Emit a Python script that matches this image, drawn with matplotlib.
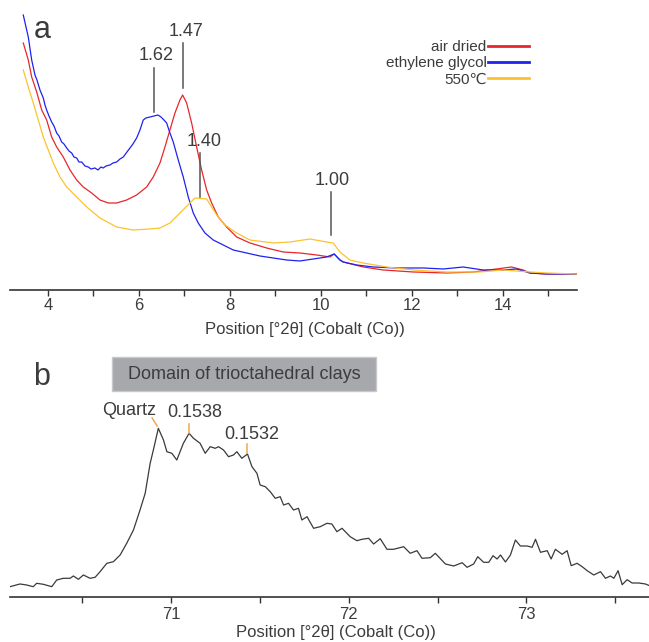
import matplotlib.pyplot as plt
from matplotlib.ticker import MultipleLocator
from matplotlib.patches import Rectangle

plt.rcParams['font.family'] = ['Liberation Sans', 'DejaVu Sans']

# ---- panel a: XRD traces (°2θ, counts arbitrary) ----
blue_x = [3.457, 3.567, 3.642, 3.714, 3.758, 3.824, 3.897, 3.934, 3.971, 4.022,
          4.081, 4.132, 4.191, 4.242, 4.301, 4.352, 4.411, 4.462, 4.521, 4.571,
          4.631, 4.681, 4.741, 4.813, 4.886, 4.945, 5.033, 5.099, 5.165, 5.215,
          5.275, 5.363, 5.429, 5.510, 5.582, 5.655, 5.736, 5.802, 5.868, 5.949,
          6.022, 6.095, 6.154, 6.242, 6.330, 6.418, 6.484, 6.549, 6.609, 6.681,
          6.754, 6.864, 6.974, 7.084, 7.194, 7.303, 7.451, 7.633, 7.853, 8.073,
          8.367, 8.659, 8.952, 9.246, 9.538, 9.831, 10.125, 10.292, 10.418, 10.490,
          10.785, 11.149, 11.664, 12.248, 12.688, 13.127, 13.567, 14.007, 14.301, 14.593,
          14.960, 15.626]
blue_y = [275, 253, 230, 215, 210, 200, 192, 185, 180, 174,
          168, 164, 157, 154, 148, 146, 142, 139, 137, 133,
          132, 128, 128, 124, 123, 121, 122, 120, 123, 122,
          124, 125, 127, 128, 131, 133, 138, 142, 146, 152,
          160, 170, 172, 173, 174, 175, 173, 170, 167, 157,
          148, 130, 113, 93, 77, 67, 57, 50, 45, 40,
          37, 34, 32, 30, 29, 31, 33, 36, 30, 28,
          25, 23, 22, 22, 21, 23, 20, 20, 21, 17,
          16, 16]

red_x = [3.457, 3.567, 3.642, 3.752, 3.862, 3.971, 4.081, 4.191, 4.336, 4.484,
         4.631, 4.776, 4.960, 5.143, 5.325, 5.510, 5.730, 5.949, 6.169, 6.314,
         6.462, 6.571, 6.681, 6.791, 6.901, 6.960, 7.048, 7.158, 7.268, 7.378,
         7.488, 7.598, 7.743, 7.927, 8.147, 8.440, 8.807, 9.171, 9.538, 9.905,
         10.198, 10.292, 10.418, 10.490, 10.930, 11.369, 12.029, 12.763, 13.347, 13.862,
         14.191, 14.446, 14.593, 14.960, 15.626]
red_y = [247, 230, 213, 198, 180, 170, 153, 143, 133, 120,
         110, 103, 97, 90, 87, 87, 90, 95, 103, 113,
         127, 143, 160, 177, 190, 195, 187, 167, 143, 120,
         100, 87, 73, 63, 53, 47, 42, 38, 37, 35,
         33, 36, 30, 28, 23, 20, 18, 17, 18, 21,
         23, 20, 17, 16, 16]

yellow_x = [3.457, 3.567, 3.677, 3.787, 3.897, 4.007, 4.116, 4.264, 4.411, 4.631,
            4.851, 5.143, 5.510, 5.875, 6.242, 6.462, 6.681, 6.901, 7.121, 7.231,
            7.488, 7.598, 7.708, 7.890, 8.147, 8.440, 8.952, 9.319, 9.758, 10.125,
            10.270, 10.418, 10.637, 10.930, 11.444, 12.029, 12.763, 13.495, 14.007, 14.593,
            14.960, 15.626]
yellow_y = [220, 203, 187, 170, 153, 140, 127, 113, 103, 93,
            83, 72, 63, 60, 61, 62, 67, 77, 87, 92,
            91, 83, 75, 65, 57, 50, 47, 48, 51, 48,
            47, 38, 30, 27, 23, 20, 18, 18, 20, 18,
            17, 16]

series_labels = ["air dried", "ethylene glycol", "550\u2103"]
peak_labels_a = ["1.62", "1.47", "1.40", "1.00"]
peak_pos_a = [6.336, 6.960, 7.341, 10.220]

# ---- panel b: high-angle region ----
b_x = [70.093, 70.149, 70.187, 70.224, 70.243, 70.281, 70.328, 70.356, 70.393, 70.431,
       70.450, 70.478, 70.506, 70.544, 70.572, 70.600, 70.638, 70.675, 70.713, 70.750,
       70.788, 70.825, 70.854, 70.882, 70.900, 70.928, 70.957, 70.976, 71.004, 71.032,
       71.069, 71.101, 71.126, 71.163, 71.192, 71.220, 71.248, 71.267, 71.295, 71.323,
       71.351, 71.370, 71.398, 71.430, 71.455, 71.483, 71.501, 71.530, 71.558, 71.586,
       71.614, 71.633, 71.661, 71.689, 71.717, 71.736, 71.765, 71.802, 71.839, 71.877,
       71.905, 71.933, 71.962, 72.008, 72.046, 72.074, 72.112, 72.140, 72.177, 72.215,
       72.252, 72.309, 72.346, 72.384, 72.412, 72.459, 72.487, 72.544, 72.591, 72.638,
       72.666, 72.703, 72.726, 72.759, 72.788, 72.812, 72.835, 72.854, 72.882, 72.910,
       72.938, 72.966, 73.004, 73.032, 73.051, 73.079, 73.117, 73.139, 73.163, 73.201,
       73.229, 73.252, 73.285, 73.314, 73.342, 73.379, 73.417, 73.445, 73.473, 73.492,
       73.516, 73.539, 73.567, 73.595, 73.633, 73.670, 73.693]
b_y = [10.3, 13.0, 12.0, 10.3, 13.7, 12.7, 10.3, 17.0, 18.7, 18.7,
       21.0, 17.7, 22.0, 18.7, 19.7, 25.3, 33.7, 35.3, 42.0, 53.7,
       67.0, 87.0, 103.7, 133.7, 147.0, 168.7, 157.0, 145.3, 143.7, 137.0,
       153.7, 163.7, 158.7, 153.7, 143.7, 150.3, 148.7, 150.3, 147.0, 140.3,
       142.0, 145.3, 138.7, 143.0, 130.3, 123.7, 112.0, 110.3, 105.3, 98.7,
       100.3, 92.0, 93.7, 87.0, 88.7, 77.0, 80.3, 68.7, 70.3, 73.7,
       73.0, 65.3, 68.7, 60.3, 56.3, 57.7, 58.7, 53.0, 58.3, 47.7,
       47.7, 50.3, 43.7, 46.3, 38.7, 39.3, 43.7, 33.0, 31.0, 34.3,
       29.7, 33.0, 40.3, 34.7, 34.7, 41.3, 38.0, 42.0, 35.0, 42.0,
       57.0, 51.0, 51.0, 49.7, 57.7, 44.7, 46.3, 38.0, 47.7, 42.7,
       46.3, 31.3, 33.7, 30.3, 26.3, 22.0, 25.3, 18.7, 21.0, 18.7,
       26.3, 12.3, 17.3, 14.0, 14.0, 13.0, 11.3]

peak_labels_b = ["Quartz", "0.1538", "0.1532"]

txt = "#3c3c3c"
fig = plt.figure(figsize=(6.49, 6.42), dpi=100)

# ---------------- panel a ----------------
ax = fig.add_axes([0.0154, 0.5483, 0.8737, 0.4517])
ax.plot(red_x, red_y, color="#e8262b", lw=0.9, label=series_labels[0])
ax.plot(blue_x, blue_y, color="#1f22ee", lw=0.9, label=series_labels[1])
ax.plot(yellow_x, yellow_y, color="#fdc22e", lw=0.9, label=series_labels[2])
ax.set_xlim(3.165, 15.63)
ax.set_ylim(0, 290)

for s in ["left", "right", "top"]:
    ax.spines[s].set_visible(False)
ax.spines["bottom"].set_color("#333333")
ax.spines["bottom"].set_linewidth(1.2)
ax.set_yticks([])
ax.xaxis.set_major_locator(MultipleLocator(2))
ax.xaxis.set_minor_locator(MultipleLocator(1))
ax.tick_params(axis="x", which="both", length=4, width=1, color="#333333",
               labelsize=12, labelcolor=txt, pad=2)
ax.set_xlabel("Position [°2θ] (Cobalt (Co))", fontsize=12, color=txt)
ax.xaxis.set_label_coords(0.52, -0.11)

ax.text(3.87, 260, "a", fontsize=22, color=txt, ha="center", va="center")

lab_y = [234, 258, 148, 109]
line_top = [222, 247, 137, 98]
line_bot = [178, 202, 93, 55]
lab_dx = [0.04, 0.07, 0.09, 0.02]
for lab, xp, ly, lt, lb, dx in zip(peak_labels_a, peak_pos_a, lab_y, line_top, line_bot, lab_dx):
    ax.plot([xp, xp], [lb, lt], color="#555555", lw=1.1)
    ax.text(xp + dx, ly, lab, fontsize=13, color=txt, ha="center", va="center")

leg = ax.legend(loc="upper right", bbox_to_anchor=(0.94, 0.91), frameon=False,
                markerfirst=False, fontsize=11, handlelength=2.7, handletextpad=0.1,
                labelspacing=0.15, labelcolor=txt)
for ln in leg.get_lines():
    ln.set_linewidth(2)

# ---------------- panel b ----------------
bx = fig.add_axes([0.0154, 0.0701, 0.9846, 0.4003])
bx.plot(b_x, b_y, color="#3a3a3a", lw=0.9)
bx.set_xlim(70.093, 73.69)
bx.set_ylim(0, 257)
for s in ["left", "right", "top"]:
    bx.spines[s].set_visible(False)
bx.spines["bottom"].set_color("#333333")
bx.spines["bottom"].set_linewidth(1.2)
bx.set_yticks([])
bx.xaxis.set_major_locator(MultipleLocator(1))
bx.xaxis.set_minor_locator(MultipleLocator(0.5))
bx.tick_params(axis="x", which="both", length=4, width=1, color="#333333",
               labelsize=12, labelcolor=txt, pad=3)
bx.set_xlabel("Position [°2θ] (Cobalt (Co))", fontsize=12, color=txt)
bx.xaxis.set_label_coords(0.51, -0.108)

bx.text(70.273, 220, "b", fontsize=22, color=txt, ha="center", va="center")
bx.add_patch(Rectangle((70.668, 206), 72.155 - 70.668, 34, fc="#a7a8ab",
                       ec="#c8c8ca", lw=1))
bx.text(71.411, 223, "Domain of trioctahedral clays", fontsize=13, color=txt,
        ha="center", va="center")

orange = "#f5a54a"
bx.plot([70.893, 70.921], [179, 171], color=orange, lw=1.1)
bx.plot([71.101, 71.101], [173, 164], color=orange, lw=1.1)
bx.plot([71.428, 71.428], [153, 144], color=orange, lw=1.1)
bx.text(70.763, 187, peak_labels_b[0], fontsize=13, color=txt, ha="center", va="center")
bx.text(71.135, 185, peak_labels_b[1], fontsize=13, color=txt, ha="center", va="center")
bx.text(71.456, 163, peak_labels_b[2], fontsize=13, color=txt, ha="center", va="center")

fig.savefig("out.png", dpi=100)
